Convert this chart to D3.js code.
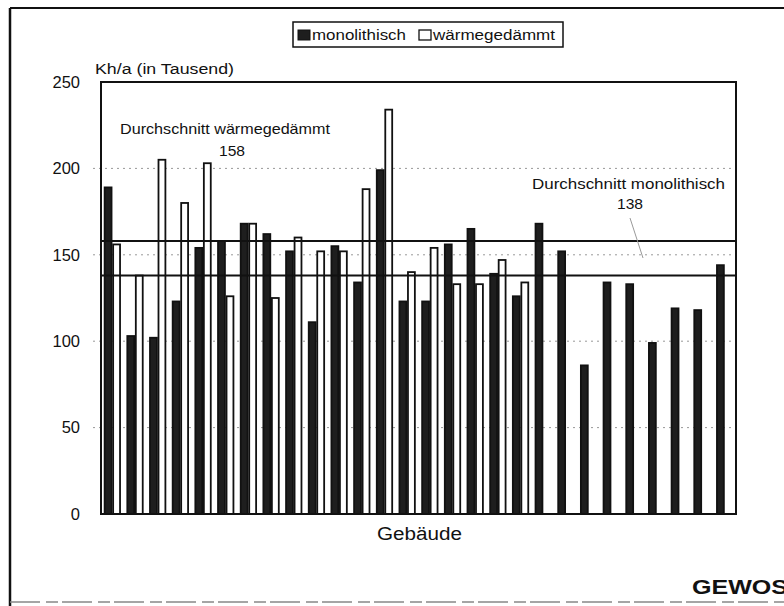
<!DOCTYPE html>
<html><head><meta charset="utf-8">
<script src="https://cdn.jsdelivr.net/npm/d3@7"></script>
<style>body{margin:0;background:#fff}svg{display:block}text{font-family:"Liberation Sans",Arial,sans-serif;fill:#111}</style>
</head><body><svg id="c" width="784" height="606"></svg>
<script>
const buildings = d3.range(1, 29).map(String);
const monolithisch = [189,103,102,123,154,158,168,162,152,111,155,134,199,123,123,156,165,139,126,168,152,86,134,133,99,119,118,144];
const waermegedaemmt = [156,138,205,180,203,126,168,125,160,152,152,188,234,140,154,133,133,147,134,null,null,null,null,null,null,null,null,null];
const seriesNames = ["monolithisch","wärmegedämmt"];
const yTicks = [0,50,100,150,200,250];
const avgInsul = 158, avgMono = 138;

const svg = d3.select("#c");
const L=101, R=736, T=82, B=514;
const x = d3.scaleBand().domain(buildings).range([L,R]).paddingInner(0.25).paddingOuter(0.125);
const xs = d3.scaleBand().domain(seriesNames).range([0,x.bandwidth()]);
const y = d3.scaleLinear().domain([0,250]).range([B,T]);

function txt(parent, s, xp, yp, size, len, anchor, weight){
  const t = parent.append("text").attr("x",xp).attr("y",yp).style("font-size",size+"px").text(s);
  if (anchor) t.attr("text-anchor",anchor);
  if (weight) t.style("font-weight",weight);
  if (len) t.attr("textLength",len).attr("lengthAdjust","spacingAndGlyphs");
  return t;
}

// outer frame
svg.append("line").attr("x1",10).attr("x2",10).attr("y1",8).attr("y2",606).attr("stroke","#111").attr("stroke-width",2.5);
svg.append("line").attr("x1",10).attr("x2",784).attr("y1",8).attr("y2",8).attr("stroke","#111").attr("stroke-width",2);
svg.append("line").attr("x1",10).attr("x2",784).attr("y1",602).attr("y2",602).attr("stroke","#888").attr("stroke-width",1.5).attr("stroke-dasharray","30,6,12,4");

// gridlines
svg.append("g").selectAll("line").data(yTicks.filter(d=>d>0&&d<250)).join("line")
  .attr("x1",93).attr("x2",R).attr("y1",d=>y(d)).attr("y2",d=>y(d))
  .attr("stroke","#999").attr("stroke-width",1).attr("stroke-dasharray","2,4");

// y axis labels
const ax = svg.append("g").attr("transform",`translate(${L},0)`)
  .call(d3.axisLeft(y).tickValues(yTicks).tickSize(0).tickPadding(21));
ax.select(".domain").remove();
ax.selectAll("text").style("font-family","Liberation Sans, Arial, sans-serif").style("font-size","16.5px").attr("fill","#111");

// bars
const data = buildings.map((b,i)=>({b, vals:[{s:seriesNames[0],v:monolithisch[i]},{s:seriesNames[1],v:waermegedaemmt[i]}]}));
const g = svg.append("g").selectAll("g").data(data).join("g").attr("transform",d=>`translate(${x(d.b)},0)`);
g.selectAll("rect").data(d=>d.vals.filter(v=>v.v!=null)).join("rect")
  .attr("x",d=>xs(d.s)+0.8).attr("width",xs.bandwidth()-1.6)
  .attr("y",d=>y(d.v)).attr("height",d=>B-y(d.v))
  .attr("fill",d=>d.s===seriesNames[0]?"#1e1e1e":"#fff")
  .attr("stroke","#111").attr("stroke-width",1.8);

// average lines
[avgInsul, avgMono].forEach(v=>{
  svg.append("line").attr("x1",L).attr("x2",R).attr("y1",y(v)).attr("y2",y(v)).attr("stroke","#111").attr("stroke-width",2);
});

// plot frame
svg.append("rect").attr("x",L).attr("y",T).attr("width",R-L).attr("height",B-T).attr("fill","none").attr("stroke","#111").attr("stroke-width",2);

// annotations
txt(svg,"Durchschnitt wärmegedämmt",120,134,15,210);
txt(svg,String(avgInsul),232,156,15,26,"middle");
txt(svg,"Durchschnitt monolithisch",532,189,15,193);
txt(svg,String(avgMono),630,209,15,26,"middle");
svg.append("line").attr("x1",630).attr("y1",218).attr("x2",643).attr("y2",258).attr("stroke","#999").attr("stroke-width",1);

// axis titles
txt(svg,"Kh/a (in Tausend)",95,74,14,139);
txt(svg,"Gebäude",377,540,18,85);
txt(svg,"GEWOS",692,594,20,96,null,"bold");

// legend
const lg = svg.append("g");
lg.append("rect").attr("x",293).attr("y",22).attr("width",270).attr("height",25).attr("fill","#fff").attr("stroke","#111").attr("stroke-width",1.5);
lg.append("rect").attr("x",298).attr("y",30).attr("width",12).attr("height",10).attr("fill","#1e1e1e").attr("stroke","#111");
txt(lg,seriesNames[0],312,40,14,94);
lg.append("rect").attr("x",419).attr("y",30).attr("width",12).attr("height",10).attr("fill","#fff").attr("stroke","#111").attr("stroke-width",1.3);
txt(lg,seriesNames[1],433,40,14,122);
</script></body></html>
